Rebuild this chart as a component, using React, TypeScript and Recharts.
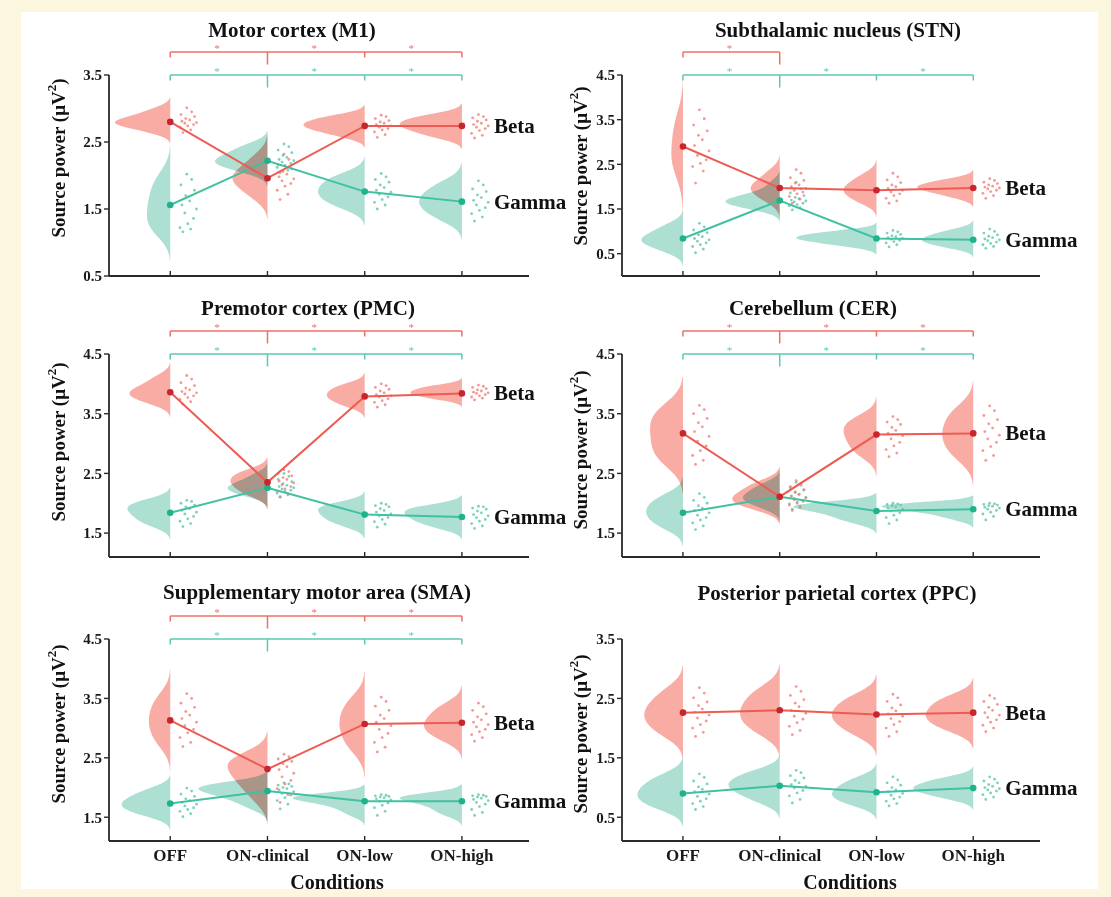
import React from 'react';
import { ComposedChart, XAxis, YAxis, Scatter, ReferenceLine, ReferenceDot } from 'recharts';

const CONDITIONS = ['OFF', 'ON-clinical', 'ON-low', 'ON-high'];

// ---------- Motor cortex (M1)
const M1_Y_DOMAIN = [0.5, 3.5];
const M1_Y_TICKS = [0.5, 1.5, 2.5, 3.5];
const M1_BETA_MEAN = [2.8, 1.96, 2.74, 2.74];
const M1_GAMMA_MEAN = [1.56, 2.22, 1.76, 1.61];
const M1_BETA_WIDTH = [0.57, 0.36, 0.63, 0.64];
const M1_GAMMA_WIDTH = [0.24, 0.54, 0.48, 0.44];
const M1_BETA_SIG = [[0, 1], [1, 2], [2, 3]];
const M1_GAMMA_SIG = [[0, 1], [1, 2], [2, 3]];
const M1_BETA_DOTS = [
  [2.64, 2.68, 2.72, 2.74, 2.76, 2.78, 2.79, 2.81, 2.83, 2.85, 2.88, 2.91, 2.95, 3.01],
  [1.64, 1.72, 1.78, 1.84, 1.88, 1.92, 1.95, 1.98, 2.02, 2.06, 2.1, 2.16, 2.24, 2.32],
  [2.57, 2.61, 2.65, 2.68, 2.7, 2.72, 2.74, 2.76, 2.78, 2.8, 2.82, 2.85, 2.88, 2.9],
  [2.56, 2.6, 2.63, 2.67, 2.7, 2.72, 2.74, 2.76, 2.78, 2.81, 2.83, 2.86, 2.88, 2.91],
];
const M1_GAMMA_DOTS = [
  [1.16, 1.2, 1.22, 1.28, 1.36, 1.44, 1.5, 1.56, 1.62, 1.7, 1.78, 1.86, 1.94, 2.02],
  [2.04, 2.08, 2.12, 2.15, 2.18, 2.2, 2.22, 2.24, 2.27, 2.3, 2.34, 2.38, 2.43, 2.47],
  [1.5, 1.56, 1.6, 1.64, 1.68, 1.72, 1.75, 1.78, 1.82, 1.86, 1.9, 1.94, 1.98, 2.03],
  [1.32, 1.38, 1.43, 1.48, 1.52, 1.56, 1.6, 1.63, 1.67, 1.71, 1.76, 1.8, 1.86, 1.92],
];

// ---------- Subthalamic nucleus (STN)
const STN_Y_DOMAIN = [0, 4.5];
const STN_Y_TICKS = [0.5, 1.5, 2.5, 3.5, 4.5];
const STN_BETA_MEAN = [2.9, 1.97, 1.92, 1.97];
const STN_GAMMA_MEAN = [0.84, 1.69, 0.84, 0.81];
const STN_BETA_WIDTH = [0.12, 0.3, 0.34, 0.58];
const STN_GAMMA_WIDTH = [0.43, 0.56, 0.83, 0.53];
const STN_BETA_SIG = [[0, 1]];
const STN_GAMMA_SIG = [[0, 1], [1, 2], [2, 3]];
const STN_BETA_DOTS = [
  [2.08, 2.35, 2.45, 2.52, 2.6, 2.7, 2.8, 2.92, 3.05, 3.15, 3.25, 3.38, 3.52, 3.72],
  [1.63, 1.72, 1.78, 1.84, 1.88, 1.92, 1.96, 2.0, 2.04, 2.08, 2.14, 2.2, 2.3, 2.38],
  [1.63, 1.68, 1.74, 1.8, 1.84, 1.88, 1.92, 1.96, 2.0, 2.04, 2.09, 2.15, 2.22, 2.3],
  [1.74, 1.8, 1.85, 1.89, 1.92, 1.95, 1.97, 1.99, 2.01, 2.04, 2.07, 2.1, 2.14, 2.18],
];
const STN_GAMMA_DOTS = [
  [0.52, 0.6, 0.66, 0.7, 0.74, 0.78, 0.81, 0.84, 0.88, 0.92, 0.97, 1.03, 1.1, 1.18],
  [1.48, 1.53, 1.57, 1.6, 1.63, 1.66, 1.68, 1.7, 1.73, 1.76, 1.8, 1.86, 1.95, 2.1],
  [0.65, 0.7, 0.74, 0.77, 0.8, 0.82, 0.84, 0.86, 0.88, 0.9, 0.93, 0.96, 0.99, 1.02],
  [0.62, 0.66, 0.7, 0.73, 0.76, 0.79, 0.81, 0.83, 0.86, 0.89, 0.92, 0.96, 1.0, 1.05],
];

// ---------- Premotor cortex (PMC)
const PMC_Y_DOMAIN = [1.1, 4.5];
const PMC_Y_TICKS = [1.5, 2.5, 3.5, 4.5];
const PMC_BETA_MEAN = [3.86, 2.35, 3.79, 3.84];
const PMC_GAMMA_MEAN = [1.84, 2.26, 1.81, 1.77];
const PMC_BETA_WIDTH = [0.42, 0.38, 0.39, 0.53];
const PMC_GAMMA_WIDTH = [0.44, 0.41, 0.48, 0.59];
const PMC_BETA_SIG = [[0, 1], [1, 2], [2, 3]];
const PMC_GAMMA_SIG = [[0, 1], [1, 2], [2, 3]];
const PMC_BETA_DOTS = [
  [3.66, 3.7, 3.74, 3.77, 3.8, 3.83, 3.85, 3.87, 3.9, 3.93, 3.97, 4.02, 4.08, 4.14],
  [2.11, 2.16, 2.2, 2.24, 2.28, 2.31, 2.34, 2.37, 2.4, 2.43, 2.46, 2.5, 2.53, 2.56],
  [3.61, 3.65, 3.69, 3.72, 3.75, 3.78, 3.8, 3.82, 3.85, 3.88, 3.91, 3.94, 3.97, 4.0],
  [3.73, 3.76, 3.78, 3.8, 3.82, 3.84, 3.85, 3.86, 3.88, 3.9, 3.92, 3.94, 3.96, 3.98],
];
const PMC_GAMMA_DOTS = [
  [1.61, 1.66, 1.7, 1.74, 1.78, 1.82, 1.85, 1.88, 1.91, 1.94, 1.97, 2.0, 2.03, 2.05],
  [2.1, 2.14, 2.17, 2.2, 2.22, 2.24, 2.26, 2.28, 2.3, 2.33, 2.36, 2.4, 2.45, 2.5],
  [1.6, 1.65, 1.69, 1.73, 1.76, 1.79, 1.82, 1.85, 1.88, 1.91, 1.94, 1.96, 1.98, 2.0],
  [1.58, 1.62, 1.66, 1.7, 1.73, 1.76, 1.79, 1.81, 1.84, 1.87, 1.9, 1.92, 1.94, 1.95],
];

// ---------- Cerebellum (CER)
const CER_Y_DOMAIN = [1.1, 4.5];
const CER_Y_TICKS = [1.5, 2.5, 3.5, 4.5];
const CER_BETA_MEAN = [3.17, 2.11, 3.15, 3.17];
const CER_GAMMA_MEAN = [1.84, 2.11, 1.87, 1.9];
const CER_BETA_WIDTH = [0.34, 0.49, 0.34, 0.32];
const CER_GAMMA_WIDTH = [0.38, 0.38, 0.86, 0.95];
const CER_BETA_SIG = [[0, 1], [1, 2], [2, 3]];
const CER_GAMMA_SIG = [[0, 1], [1, 2], [2, 3]];
const CER_BETA_DOTS = [
  [2.65, 2.72, 2.8, 2.88, 2.96, 3.04, 3.12, 3.2, 3.28, 3.35, 3.42, 3.5, 3.57, 3.64],
  [1.88, 1.93, 1.97, 2.0, 2.03, 2.06, 2.09, 2.12, 2.15, 2.19, 2.23, 2.28, 2.33, 2.38],
  [2.78, 2.84, 2.9, 2.96, 3.02, 3.08, 3.13, 3.17, 3.22, 3.27, 3.32, 3.36, 3.4, 3.45],
  [2.72, 2.8, 2.88, 2.95, 3.02, 3.08, 3.14, 3.2, 3.26, 3.33, 3.4, 3.47, 3.55, 3.63],
];
const CER_GAMMA_DOTS = [
  [1.56, 1.62, 1.67, 1.72, 1.76, 1.8, 1.84, 1.88, 1.92, 1.96, 2.0, 2.05, 2.1, 2.16],
  [1.9, 1.95, 1.99, 2.02, 2.05, 2.08, 2.1, 2.12, 2.15, 2.18, 2.22, 2.26, 2.3, 2.35],
  [1.66, 1.72, 1.76, 1.8, 1.84, 1.87, 1.9, 1.92, 1.94, 1.96, 1.97, 1.98, 1.99, 2.0],
  [1.72, 1.78, 1.82, 1.85, 1.88, 1.9, 1.92, 1.93, 1.95, 1.96, 1.97, 1.98, 1.99, 2.0],
];

// ---------- Supplementary motor area (SMA)
const SMA_Y_DOMAIN = [1.1, 4.5];
const SMA_Y_TICKS = [1.5, 2.5, 3.5, 4.5];
const SMA_BETA_MEAN = [3.13, 2.31, 3.07, 3.09];
const SMA_GAMMA_MEAN = [1.73, 1.94, 1.77, 1.77];
const SMA_BETA_WIDTH = [0.22, 0.41, 0.26, 0.39];
const SMA_GAMMA_WIDTH = [0.5, 0.71, 0.74, 0.64];
const SMA_BETA_SIG = [[0, 1], [1, 2], [2, 3]];
const SMA_GAMMA_SIG = [[0, 1], [1, 2], [2, 3]];
const SMA_BETA_DOTS = [
  [2.69, 2.76, 2.84, 2.92, 2.98, 3.04, 3.1, 3.16, 3.22, 3.28, 3.35, 3.42, 3.5, 3.58],
  [1.75, 1.88, 1.98, 2.06, 2.12, 2.18, 2.24, 2.3, 2.35, 2.4, 2.44, 2.48, 2.52, 2.56],
  [2.6, 2.68, 2.76, 2.84, 2.91, 2.98, 3.04, 3.1, 3.16, 3.22, 3.3, 3.37, 3.45, 3.52],
  [2.78, 2.84, 2.89, 2.94, 2.98, 3.02, 3.06, 3.1, 3.14, 3.19, 3.24, 3.3, 3.36, 3.42],
];
const SMA_GAMMA_DOTS = [
  [1.51, 1.56, 1.6, 1.63, 1.66, 1.69, 1.72, 1.75, 1.78, 1.81, 1.85, 1.89, 1.94, 1.99],
  [1.64, 1.72, 1.78, 1.83, 1.87, 1.9, 1.93, 1.96, 1.98, 2.0, 2.02, 2.04, 2.06, 2.08],
  [1.53, 1.6, 1.66, 1.7, 1.74, 1.77, 1.79, 1.81, 1.83, 1.84, 1.85, 1.86, 1.87, 1.88],
  [1.53, 1.58, 1.63, 1.68, 1.72, 1.75, 1.78, 1.8, 1.82, 1.84, 1.85, 1.86, 1.87, 1.88],
];

// ---------- Posterior parietal cortex (PPC)
const PPC_Y_DOMAIN = [0.1, 3.5];
const PPC_Y_TICKS = [0.5, 1.5, 2.5, 3.5];
const PPC_BETA_MEAN = [2.26, 2.3, 2.23, 2.26];
const PPC_GAMMA_MEAN = [0.9, 1.03, 0.92, 0.99];
const PPC_BETA_WIDTH = [0.4, 0.41, 0.46, 0.49];
const PPC_GAMMA_WIDTH = [0.47, 0.53, 0.46, 0.62];
const PPC_BETA_SIG: number[][] = [];
const PPC_GAMMA_SIG: number[][] = [];
const PPC_BETA_DOTS = [
  [1.86, 1.93, 2.0, 2.06, 2.12, 2.17, 2.22, 2.27, 2.32, 2.38, 2.44, 2.51, 2.59, 2.68],
  [1.89, 1.96, 2.03, 2.09, 2.15, 2.2, 2.25, 2.3, 2.36, 2.42, 2.48, 2.55, 2.62, 2.7],
  [1.86, 1.94, 2.0, 2.06, 2.11, 2.16, 2.2, 2.24, 2.29, 2.34, 2.39, 2.45, 2.51, 2.57],
  [1.94, 2.0, 2.05, 2.1, 2.14, 2.18, 2.22, 2.26, 2.3, 2.35, 2.4, 2.45, 2.5, 2.55],
];
const PPC_GAMMA_DOTS = [
  [0.63, 0.68, 0.73, 0.77, 0.81, 0.85, 0.89, 0.93, 0.97, 1.01, 1.06, 1.11, 1.17, 1.23],
  [0.74, 0.8, 0.86, 0.91, 0.95, 0.99, 1.02, 1.05, 1.08, 1.12, 1.16, 1.2, 1.25, 1.29],
  [0.69, 0.73, 0.77, 0.81, 0.84, 0.87, 0.9, 0.93, 0.96, 1.0, 1.04, 1.08, 1.13, 1.18],
  [0.8, 0.84, 0.88, 0.91, 0.94, 0.96, 0.98, 1.0, 1.02, 1.05, 1.08, 1.11, 1.14, 1.18],
];

// ---------- layout / style (not data)
const FONT = "'Liberation Serif', 'Times New Roman', serif";
const JITTER = [0.13, 0.21, 0.1, 0.18, 0.24, 0.15, 0.27, 0.12, 0.2, 0.16, 0.25, 0.11, 0.22, 0.17];
const X_DOMAIN = [-0.63, 3.69];
const RED = { violin: '#f9aca4', dot: '#f07f76', line: '#ee5b53', mean: '#c8262f', bracket: '#ef6f66' };
const GREEN = { violin: '#addfd3', dot: '#5cc6ac', line: '#40c1a1', mean: '#1fb38b', bracket: '#5cc8b0' };

const COLS = [
  { left: 0, width: 600, ml: 49, mr: 71, ylabX: 58, condX: 337 },
  { left: 555, width: 556, ml: 7, mr: 71, ylabX: 580, condX: 850 },
];
const ROWS = [
  { top: 0, height: 300, mt: 75, xh: 20, mb: 4, labels: false },
  { top: 290, height: 290, mt: 64, xh: 20, mb: 3, labels: false },
  { top: 575, height: 322, mt: 64, xh: 50, mb: 6, labels: true },
];

const PANELS = [
  { id: 'm1', title: 'Motor cortex (M1)', col: 0, row: 0, tx: 292, ty: 30, ly: 158, domain: M1_Y_DOMAIN, ticks: M1_Y_TICKS,
    beta: { mean: M1_BETA_MEAN, dots: M1_BETA_DOTS, width: M1_BETA_WIDTH, sig: M1_BETA_SIG },
    gamma: { mean: M1_GAMMA_MEAN, dots: M1_GAMMA_DOTS, width: M1_GAMMA_WIDTH, sig: M1_GAMMA_SIG } },
  { id: 'stn', title: 'Subthalamic nucleus (STN)', col: 1, row: 0, tx: 838, ty: 30, ly: 166, domain: STN_Y_DOMAIN, ticks: STN_Y_TICKS,
    beta: { mean: STN_BETA_MEAN, dots: STN_BETA_DOTS, width: STN_BETA_WIDTH, sig: STN_BETA_SIG },
    gamma: { mean: STN_GAMMA_MEAN, dots: STN_GAMMA_DOTS, width: STN_GAMMA_WIDTH, sig: STN_GAMMA_SIG } },
  { id: 'pmc', title: 'Premotor cortex (PMC)', col: 0, row: 1, tx: 308, ty: 308, ly: 442, domain: PMC_Y_DOMAIN, ticks: PMC_Y_TICKS,
    beta: { mean: PMC_BETA_MEAN, dots: PMC_BETA_DOTS, width: PMC_BETA_WIDTH, sig: PMC_BETA_SIG },
    gamma: { mean: PMC_GAMMA_MEAN, dots: PMC_GAMMA_DOTS, width: PMC_GAMMA_WIDTH, sig: PMC_GAMMA_SIG } },
  { id: 'cer', title: 'Cerebellum (CER)', col: 1, row: 1, tx: 813, ty: 308, ly: 450, domain: CER_Y_DOMAIN, ticks: CER_Y_TICKS,
    beta: { mean: CER_BETA_MEAN, dots: CER_BETA_DOTS, width: CER_BETA_WIDTH, sig: CER_BETA_SIG },
    gamma: { mean: CER_GAMMA_MEAN, dots: CER_GAMMA_DOTS, width: CER_GAMMA_WIDTH, sig: CER_GAMMA_SIG } },
  { id: 'sma', title: 'Supplementary motor area (SMA)', col: 0, row: 2, tx: 317, ty: 592, ly: 724, domain: SMA_Y_DOMAIN, ticks: SMA_Y_TICKS,
    beta: { mean: SMA_BETA_MEAN, dots: SMA_BETA_DOTS, width: SMA_BETA_WIDTH, sig: SMA_BETA_SIG },
    gamma: { mean: SMA_GAMMA_MEAN, dots: SMA_GAMMA_DOTS, width: SMA_GAMMA_WIDTH, sig: SMA_GAMMA_SIG } },
  { id: 'ppc', title: 'Posterior parietal cortex (PPC)', col: 1, row: 2, tx: 837, ty: 593, ly: 734, domain: PPC_Y_DOMAIN, ticks: PPC_Y_TICKS,
    beta: { mean: PPC_BETA_MEAN, dots: PPC_BETA_DOTS, width: PPC_BETA_WIDTH, sig: PPC_BETA_SIG },
    gamma: { mean: PPC_GAMMA_MEAN, dots: PPC_GAMMA_DOTS, width: PPC_GAMMA_WIDTH, sig: PPC_GAMMA_SIG } },
];

// half-violin outline (kernel density of the dots), drawn leftwards from the category position
function violinOutline(values: number[], cat: number, maxWidth: number, lo: number, hi: number) {
  const n = values.length;
  const mean = values.reduce((a, b) => a + b, 0) / n;
  const sd = Math.sqrt(values.reduce((a, b) => a + (b - mean) * (b - mean), 0) / (n - 1));
  const bw = 1.06 * sd * Math.pow(n, -0.2);
  const vmin = Math.max(lo, Math.min(...values) - 2.4 * bw);
  const vmax = Math.min(hi, Math.max(...values) + 2.4 * bw);
  const steps = 60;
  const dens: { y: number; d: number }[] = [];
  for (let i = 0; i <= steps; i++) {
    const y = vmin + ((vmax - vmin) * i) / steps;
    let d = 0;
    for (const v of values) {
      const z = (y - v) / bw;
      d += Math.exp(-0.5 * z * z);
    }
    dens.push({ y, d });
  }
  const dmax = Math.max(...dens.map((p) => p.d));
  return [
    { x: cat, y: vmin },
    ...dens.map((p) => ({ x: cat - (maxWidth * p.d) / dmax, y: p.y })),
    { x: cat, y: vmax },
  ];
}

const violinLine = (fill: string) => (props: any) => {
  const pts = (props.points || []).filter((p: any) => p && p.x != null && p.y != null);
  if (!pts.length) return <g />;
  const d = pts.map((p: any, i: number) => `${i ? 'L' : 'M'}${p.x},${p.y}`).join(' ') + ' Z';
  return <path d={d} fill={fill} stroke="none" style={{ mixBlendMode: 'multiply' }} />;
};

const EmptyShape = () => <g />;

const dotShape = (fill: string) => (p: any) => (
  <circle cx={p.cx} cy={p.cy} r={1.4} fill={fill} fillOpacity={0.8} />
);
const meanShape = (fill: string) => (p: any) => <circle cx={p.cx} cy={p.cy} r={3.3} fill={fill} />;

const textShape = (txt: string, opts: any) => (p: any) => (
  <text x={p.cx + (opts.dx || 0)} y={p.cy + (opts.dy || 0)} textAnchor={opts.anchor || 'middle'}
    dominantBaseline={opts.baseline || 'auto'} fontSize={opts.size} fontWeight={opts.weight || 400}
    fontFamily={FONT} fill={opts.fill}>{txt}</text>
);

const makeXTick = (showLabel: boolean) => (props: any) => {
  const { x, y, payload } = props;
  return (
    <g>
      <line x1={x} x2={x} y1={y} y2={y - 5} stroke="#2a2a2a" strokeWidth={1.4} />
      {showLabel ? (
        <text x={x} y={y + 20} textAnchor="middle" fontSize={17} fontWeight={700} fontFamily={FONT} fill="#1a1a1a">
          {CONDITIONS[payload.value]}
        </text>
      ) : null}
    </g>
  );
};

function brackets(sig: number[][], top: number, upp: number, levelPx: number, color: string, key: string) {
  if (!sig.length) return [];
  const level = top + levelPx * upp;
  const idx = Array.from(new Set(sig.flat())).sort((a, b) => a - b);
  const lo = idx[0];
  const hi = idx[idx.length - 1];
  const out: any[] = [];
  out.push(
    <ReferenceLine key={key + 'h'} segment={[{ x: lo, y: level }, { x: hi, y: level }]} stroke={color}
      strokeWidth={1.5} ifOverflow="visible" />
  );
  idx.forEach((i) => {
    const drop = (i === 1 ? 12.5 : 5.5) * upp;
    out.push(
      <ReferenceLine key={key + 'd' + i} segment={[{ x: i, y: level }, { x: i, y: level - drop }]} stroke={color}
        strokeWidth={1.5} ifOverflow="visible" />
    );
  });
  sig.forEach((pr, k) => {
    out.push(
      <ReferenceDot key={key + 's' + k} x={(pr[0] + pr[1]) / 2 - 0.02} y={level} r={0} ifOverflow="visible"
        shape={textShape('*', { size: 11, fill: color, dy: 0 })} />
    );
  });
  return out;
}

function Panel({ p }: { p: any }) {
  const col = COLS[p.col];
  const row = ROWS[p.row];
  const [lo, hi] = p.domain;
  const plotH = row.height - row.mt - row.xh - row.mb;
  const upp = (hi - lo) / plotH;

  const bands = [
    { key: 'g', s: p.gamma, c: GREEN, label: 'Gamma' },
    { key: 'b', s: p.beta, c: RED, label: 'Beta' },
  ];

  return (
    <div style={{ position: 'absolute', left: col.left, top: row.top }}>
      <ComposedChart width={col.width} height={row.height}
        margin={{ top: row.mt, right: col.mr, bottom: row.mb, left: col.ml }}>
        <XAxis type="number" dataKey="x" domain={X_DOMAIN} ticks={[0, 1, 2, 3]} interval={0}
          tickSize={0} tickMargin={0} height={row.xh} tick={makeXTick(row.labels)}
          axisLine={{ stroke: '#2a2a2a', strokeWidth: 1.8 }} tickLine={false} />
        <YAxis type="number" dataKey="y" domain={p.domain} ticks={p.ticks} interval={0} width={60}
          tickSize={5} tickMargin={2} tickFormatter={(v: number) => v.toFixed(1)}
          tick={{ fontSize: 15, fontWeight: 700, fill: '#1a1a1a', fontFamily: FONT }}
          axisLine={{ stroke: '#2a2a2a', strokeWidth: 1.8 }} tickLine={{ stroke: '#2a2a2a', strokeWidth: 1.4 }} />

        {bands.map((b) =>
          b.s.dots.map((vals: number[], i: number) => (
            <Scatter key={'v' + b.key + i} data={violinOutline(vals, i, b.s.width[i], lo, hi)} dataKey="y"
              line={violinLine(b.c.violin)} lineType="joint" shape={EmptyShape} isAnimationActive={false} />
          ))
        )}

        {bands.map((b) => (
          <Scatter key={'d' + b.key}
            data={b.s.dots.flatMap((vals: number[], i: number) => vals.map((v, j) => ({ x: i + JITTER[j], y: v })))}
            dataKey="y" shape={dotShape(b.c.dot)} isAnimationActive={false} />
        ))}

        {bands.map((b) => (
          <Scatter key={'m' + b.key} data={b.s.mean.map((v: number, i: number) => ({ x: i, y: v }))} dataKey="y"
            line={{ stroke: b.c.line, strokeWidth: 2 }} lineType="joint" shape={meanShape(b.c.mean)}
            isAnimationActive={false} />
        ))}

        {brackets(p.gamma.sig, hi, upp, 0, GREEN.bracket, 'gb')}
        {brackets(p.beta.sig, hi, upp, 23, RED.bracket, 'rb')}

        {bands.map((b) => (
          <ReferenceDot key={'lab' + b.key} x={3.33} y={b.s.mean[3]} r={0} ifOverflow="visible"
            shape={textShape(b.label, { size: 21, weight: 700, fill: '#111', anchor: 'start', baseline: 'central' })} />
        ))}
      </ComposedChart>
    </div>
  );
}

export default function App() {
  return (
    <div style={{ position: 'absolute', left: 0, top: 0, width: 1111, height: 897, background: '#fcf6de', overflow: 'hidden' }}>
      <div style={{ position: 'absolute', left: 21, top: 12, width: 1077, height: 877, background: '#ffffff' }} />
      {PANELS.map((p) => (
        <Panel key={p.id} p={p} />
      ))}
      <svg width={1111} height={897} style={{ position: 'absolute', left: 0, top: 0, pointerEvents: 'none' }}>
        {PANELS.map((p) => {
          const col = COLS[p.col];
          return (
            <g key={'t' + p.id}>
              <text x={p.tx} y={p.ty} textAnchor="middle" dominantBaseline="central" fontSize={21} fontWeight={700}
                fontFamily={FONT} fill="#111">{p.title}</text>
              <text transform={`translate(${col.ylabX},${p.ly}) rotate(-90)`} textAnchor="middle" dominantBaseline="central"
                fontSize={19} fontWeight={700} fontFamily={FONT} fill="#111">
                Source power (μV<tspan dy={-7} fontSize={13}>2</tspan><tspan dy={7}>)</tspan>
              </text>
              {ROWS[p.row].labels ? (
                <text x={col.condX} y={882} textAnchor="middle" dominantBaseline="central" fontSize={20} fontWeight={700}
                  fontFamily={FONT} fill="#111">Conditions</text>
              ) : null}
            </g>
          );
        })}
      </svg>
    </div>
  );
}
